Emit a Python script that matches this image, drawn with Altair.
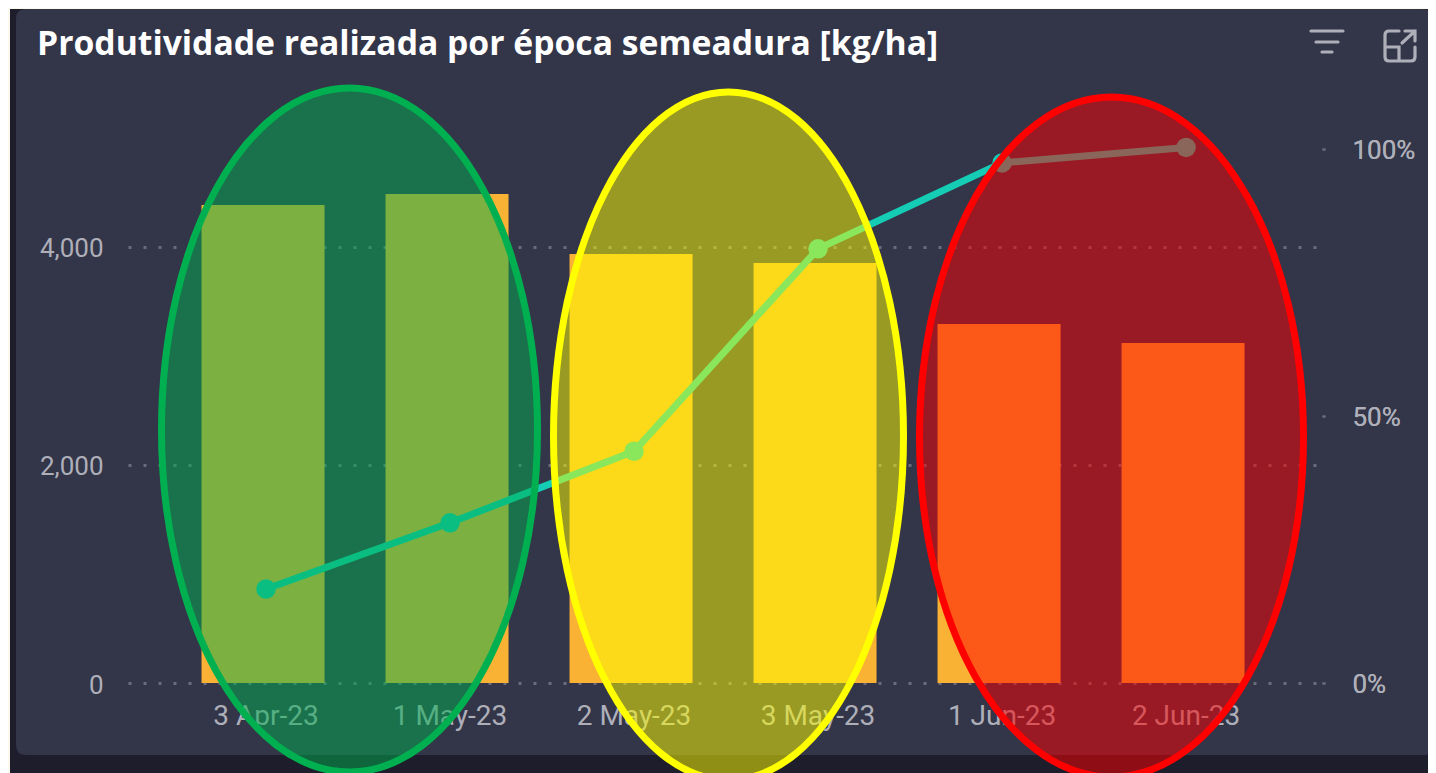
import altair as alt
import pandas as pd

TITLE = "Produtividade realizada por época semeadura [kg/ha]"
categories = ["3 Apr-23", "1 May-23", "2 May-23", "3 May-23", "1 Jun-23", "2 Jun-23"]
productivity = [4385, 4486, 3936, 3853, 3294, 3119]
share = [0.176, 0.30, 0.434, 0.813, 0.974, 1.003]

PANEL = "#333548"
DARK = "#1e1d2b"
PAPER = "#fbf8ee"
BAR = "#f9b233"
LINE = "#15cdb5"
LABEL = "#aeafb9"
GRID = "#6a6c7c"
FONT = "Roboto"

OX, OY = 128, 149  # page position of the plot origin


def px(x):
    return x - OX


def py(y):
    return y - OY


data = pd.DataFrame({"cat": categories, "prod": productivity, "share": share})
one = pd.DataFrame({"k": [0]})

x_scale = alt.Scale(domain=categories, paddingInner=0.3315, paddingOuter=0.41025, align=0.487)
x_enc = alt.X(
    "cat:N", scale=x_scale, sort=categories, title=None,
    axis=alt.Axis(labelAngle=0, labelColor=LABEL, labelFont=FONT, labelFontSize=28,
                  labelPadding=19, labelOffset=3, ticks=False, domain=False, grid=False),
)


def rrect_hole(x0, y0, x1, y1, r):
    return (f"M {px(x0)} {py(y0+r)} V {py(y1-r)} Q {px(x0)} {py(y1)} {px(x0+r)} {py(y1)} "
            f"H {px(x1-r)} Q {px(x1)} {py(y1)} {px(x1)} {py(y1-r)} V {py(y0+r)} "
            f"Q {px(x1)} {py(y0)} {px(x1-r)} {py(y0)} H {px(x0+r)} Q {px(x0)} {py(y0)} {px(x0)} {py(y0+r)} Z")


frame_path = (f"M {px(10)} {py(9)} H {px(1436)} V {py(773)} H {px(10)} Z " + rrect_hole(16, 9, 1433, 755, 10))
paper_path = (f"M {px(8)} {py(8)} H {px(1436)} V {py(9)} H {px(10)} V {py(773)} H {px(8)} Z")


def shape_layer(path, **kw):
    return alt.Chart(one).mark_point(shape=path, size=4, opacity=1, **kw).encode(
        x=alt.value(0), y=alt.value(0))


frame = shape_layer(frame_path, filled=True, fill=DARK, stroke=None)
paper = shape_layer(paper_path, filled=True, fill=PAPER, stroke=None)

bars = alt.Chart(data).mark_bar(color=BAR).encode(
    x=x_enc,
    y=alt.Y("prod:Q", title=None, scale=alt.Scale(domain=[0, 4899], nice=False),
            axis=alt.Axis(values=[0, 2000, 4000], format=",.0f", labelColor=LABEL, labelFont=FONT,
                          labelFontSize=26, labelPadding=25, labelOffset=2, ticks=False, domain=False,
                          grid=True, gridColor=GRID, gridWidth=3, gridDash=[3, 12])),
)

line_y = alt.Y("share:Q", title=None, scale=alt.Scale(domain=[0, 1], nice=False),
               axis=alt.Axis(orient="right", values=[0, 0.5, 1], format=".0%", labelColor=LABEL,
                             labelFont=FONT, labelFontSize=26, labelPadding=27, labelOffset=1,
                             grid=False, domain=False, tickSize=3, tickColor=GRID, tickWidth=2))
line = alt.Chart(data).mark_line(color=LINE, strokeWidth=7, xOffset=3, clip=False).encode(
    x=alt.X("cat:N", scale=x_scale, sort=categories), y=line_y)
dots = alt.Chart(data).mark_circle(color=LINE, size=380, opacity=1, xOffset=3, clip=False).encode(
    x=alt.X("cat:N", scale=x_scale, sort=categories), y=line_y)


def ellipse(cx, cy, rx, ry, color):
    path = f"M {-rx} 0 A {rx} {ry} 0 1 1 {rx} 0 A {rx} {ry} 0 1 1 {-rx} 0 Z"
    return alt.Chart(one).mark_point(shape=path, size=4, opacity=1, filled=True, fill=color,
                                     fillOpacity=0.5, stroke=color, strokeOpacity=1, strokeWidth=7).encode(
        x=alt.value(px(cx)), y=alt.value(py(cy)))


ell1 = ellipse(349.5, 430, 188, 342, "#00b050")
ell2 = ellipse(728.5, 436, 175, 344, "#ffff00")
ell3 = ellipse(1111.5, 437, 192, 340, "#ff0000")


def icon(cx, cy, path):
    return alt.Chart(one).mark_point(shape=path, size=4, opacity=1, filled=False, stroke=LABEL,
                                     strokeWidth=3.2, strokeCap="round").encode(
        x=alt.value(px(cx)), y=alt.value(py(cy)))


filter_icon = icon(1327, 42, "M -16 -11 H 16 M -11 0 H 11 M -5 10 H 5")
expand_icon = icon(1400, 46, "M -1 -15 H -11 Q -15 -15 -15 -11 V 11 Q -15 15 -11 15 H 11 Q 15 15 15 11 V 1 "
                             "M -15 1 H -1 V 15 M 5 -15 H 15 V -5 M 15 -15 L 2 -3")

chart = alt.layer(frame, paper, bars, line, dots, ell1, ell2, ell3, filter_icon, expand_icon).resolve_scale(
    y="independent"
).properties(
    width=1194,
    height=534,
    padding={"left": 120, "top": 141, "right": 106, "bottom": 90},
    autosize=alt.AutoSizeParams(type="none"),
    background=PANEL,
    title=alt.TitleParams(TITLE, anchor="start", frame="group", dx=-91, offset=-54, color="#ffffff",
                          font="Open Sans", fontSize=33.7, fontWeight="bold"),
).configure_view(stroke=None)

chart.save("out.html", embed_options={"renderer": "svg", "actions": False})
